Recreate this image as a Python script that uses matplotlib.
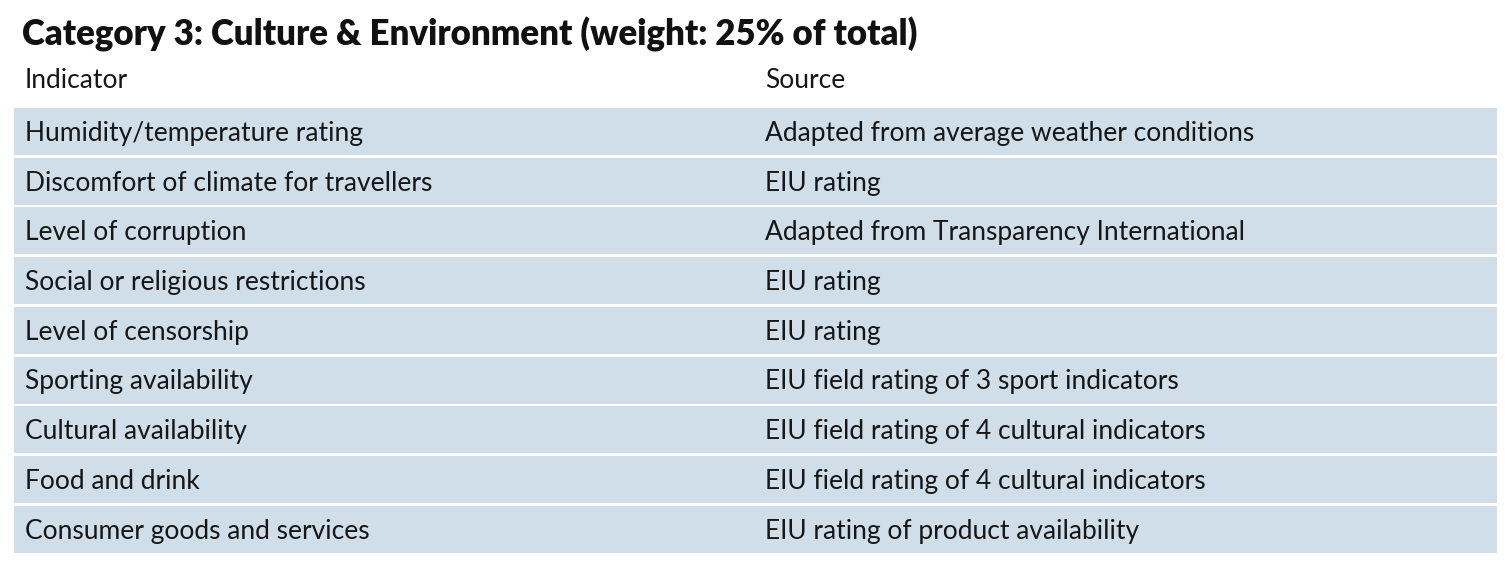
import matplotlib.pyplot as plt

# table content
title = 'Category 3: Culture & Environment (weight: 25% of total)'
headers = ['Indicator', 'Source']
indicators = ['Humidity/temperature rating',
              'Discomfort of climate for travellers',
              'Level of corruption',
              'Social or religious restrictions',
              'Level of censorship',
              'Sporting availability',
              'Cultural availability',
              'Food and drink',
              'Consumer goods and services']
sources = ['Adapted from average weather conditions',
           'EIU rating',
           'Adapted from Transparency International',
           'EIU rating',
           'EIU rating',
           'EIU field rating of 3 sport indicators',
           'EIU field rating of 4 cultural indicators',
           'EIU field rating of 4 cultural indicators',
           'EIU rating of product availability']

plt.rcParams['font.family'] = ['Lato', 'DejaVu Sans']

fig = plt.figure(figsize=(15.1, 5.7), dpi=100)
ax = fig.add_axes([0, 0, 1, 1])
ax.set_xlim(0, 1510)
ax.set_ylim(570, 0)
ax.axis('off')

row_top = 108
row_pitch = 49.7
row_h = 47
text_color = '#161616'

# row bands
centers = [row_top + i * row_pitch + row_h / 2 for i in range(len(indicators))]
ax.barh(centers, 1483, left=14, height=row_h, color='#cfdee9', zorder=1)

for y, ind, src in zip(centers, indicators, sources):
    ax.text(25, y + 2, ind, fontsize=19, va='center', ha='left', color=text_color, zorder=2)
    ax.text(765, y + 2, src, fontsize=19, va='center', ha='left', color=text_color, zorder=2)

# headers
ax.text(25, 80, headers[0], fontsize=19, va='center', ha='left', color=text_color)
ax.text(765, 80, headers[1], fontsize=19, va='center', ha='left', color=text_color)

# title
ax.text(22, 34, title, fontsize=25, fontweight='heavy', va='center', ha='left', color='#111111')

fig.savefig('out.png', dpi=100)
